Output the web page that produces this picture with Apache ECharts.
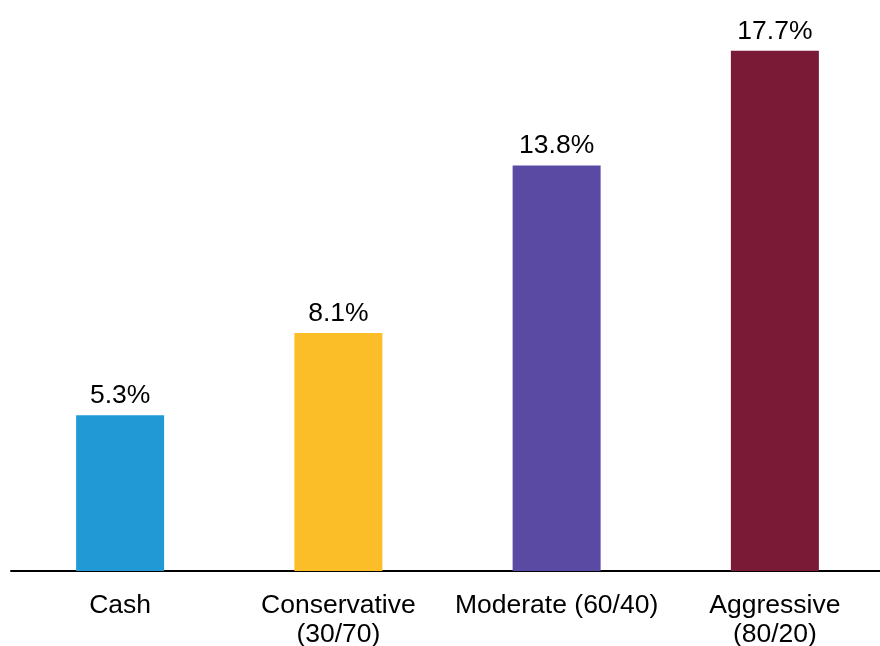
<!DOCTYPE html>
<html>
<head>
<meta charset="utf-8">
<script src="https://cdn.jsdelivr.net/npm/echarts@6/dist/echarts.min.js"></script>
<style>
  html, body { margin: 0; padding: 0; background: #fff; }
  #chart { width: 880px; height: 646px; }
</style>
</head>
<body>
<div id="chart"></div>
<script>
// Portfolio categories and their returns (%)
const categories = ['Cash', 'Conservative\n(30/70)', 'Moderate (60/40)', 'Aggressive\n(80/20)'];
const returns = [5.3, 8.1, 13.8, 17.7];
const barColors = ['#2199d5', '#fbbd28', '#5b4aa4', '#7b1a36'];

const textFont = 'Liberation Sans, Arial, sans-serif';

const chart = echarts.init(document.getElementById('chart'));
chart.setOption({
  animation: false,
  grid: {
    left: 11, top: 42, width: 873, height: 529,
    containLabel: false,
    outerBoundsMode: 'none'
  },
  xAxis: {
    type: 'category',
    data: categories,
    axisLine: { show: true, lineStyle: { color: '#000', width: 2 } },
    axisTick: { show: false },
    axisLabel: {
      color: '#000',
      fontFamily: textFont,
      fontSize: 26.5,
      lineHeight: 29,
      margin: 20,
      interval: 0
    }
  },
  yAxis: {
    type: 'value',
    min: 0,
    max: 18,
    show: false,
    splitLine: { show: false }
  },
  series: [{
    type: 'bar',
    barWidth: 88,
    data: returns.map((v, i) => ({ value: v, itemStyle: { color: barColors[i] } })),
    label: {
      show: true,
      position: 'top',
      distance: 6,
      color: '#000',
      fontFamily: textFont,
      fontSize: 26.5,
      formatter: p => p.value.toFixed(1) + '%'
    }
  }]
});
</script>
</body>
</html>
